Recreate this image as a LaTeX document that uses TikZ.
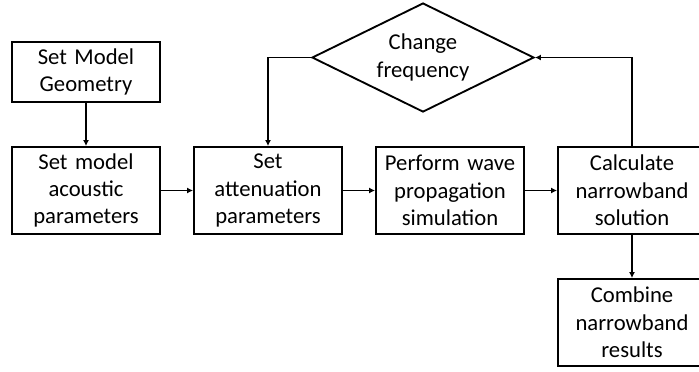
\documentclass[tikz,border=0pt]{standalone}
\usepackage{fontspec}
\setmainfont{Carlito}
\usetikzlibrary{arrows.meta, positioning, shapes.geometric}
\tikzset{
  box/.style={
    rectangle,
    draw,
    line width=1.4pt,
    align=center,
    minimum height=65.25pt,
    text width=105pt,
    inner sep=3pt,
    font=\fontsize{17}{20.5}\selectfont
  },
  topbox/.style={
    box,
    minimum height=45pt
  },
  decision/.style={
    diamond,
    draw,
    line width=1.4pt,
    align=center,
    aspect=2.04,
    minimum width=166.5pt,
    minimum height=81.75pt,
    inner sep=0pt,
    font=\fontsize{17}{20.5}\selectfont
  },
  arrow/.style={-{Latex[length=4.5pt, width=4.5pt]}, line width=1.4pt}
}

\begin{document}
\begin{tikzpicture}[node distance=32.35pt and 24.1pt]
\useasboundingbox (0,0) rectangle (524.25pt,278.25pt);
\clip (0,0) rectangle (524.25pt,278.25pt);
\node[topbox] (geometry) at (64.5pt,224.25pt) {Set Model\\Geometry};
\node[box, below=of geometry] (acoustic) {Set model\\acoustic\\parameters};
\node[box, right=of acoustic] (attenuation) {Set\\attenuation\\parameters};
\node[box, right=of attenuation] (propagation) {Perform wave\\propagation\\simulation};
\node[box, right=of propagation] (narrowband) {Calculate\\narrowband\\solution};
\node[box, below=of narrowband] (combine) {Combine\\narrowband\\results};
\node[decision] (freq) at (317.25pt,235.1pt) {Change\\frequency};

\draw[arrow] (geometry) -- (acoustic);
\draw[arrow] (acoustic) -- (attenuation);
\draw[arrow] (attenuation) -- (propagation);
\draw[arrow] (propagation) -- (narrowband);
\draw[arrow] (narrowband) -- (combine);
% loop back over the frequencies
\draw[arrow] (narrowband.north) |- (freq.east);
\draw[arrow] (freq.west) -| (attenuation.north);
\end{tikzpicture}
\end{document}
